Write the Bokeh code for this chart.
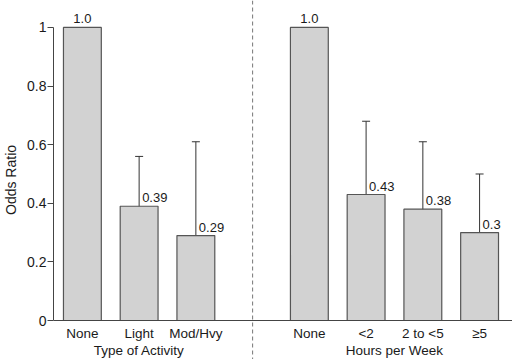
from bokeh.plotting import figure
from bokeh.models import ColumnDataSource, Range1d, FixedTicker, Span, Whisker, TeeHead
from bokeh.core.properties import value
from bokeh.embed import file_html
from bokeh.resources import INLINE

# ---- data ----
categories = ["None", "Light", "Mod/Hvy", "None", "<2", "2 to <5", "\u22655"]
positions = [0, 1, 2, 4, 5, 6, 7]
odds = [1.0, 0.39, 0.29, 1.0, 0.43, 0.38, 0.30]
value_labels = ["1.0", "0.39", "0.29", "1.0", "0.43", "0.38", "0.3"]
ci_positions = [1, 2, 5, 6, 7]
ci_lower = [0.27, 0.14, 0.27, 0.24, 0.19]
ci_upper = [0.56, 0.61, 0.68, 0.61, 0.50]
group_titles = ["Type of Activity", "Hours per Week"]
group_centers = [1, 5.5]
divider = 3
y_ticks = [0, 0.2, 0.4, 0.6, 0.8, 1.0]
y_tick_labels = ["0", "0.2", "0.4", "0.6", "0.8", "1"]

FONT = value("Liberation Sans")
TXT = "#1a1a1a"
AX = "#444444"

bars = ColumnDataSource(dict(x=positions, top=odds, lab=value_labels, cat=categories))
ci = ColumnDataSource(dict(x=ci_positions, lower=ci_lower, upper=ci_upper))
groups = ColumnDataSource(dict(x=group_centers, t=group_titles))

p = figure(width=512, height=359, output_backend="svg", toolbar_location=None,
           x_range=Range1d(-0.509, 7.58), y_range=Range1d(-0.133, 1.092),
           min_border_left=0, min_border_right=0, min_border_top=0, min_border_bottom=0)
p.outline_line_color = None
p.xgrid.visible = False
p.ygrid.visible = False
p.xaxis.visible = False

# y axis
ya = p.yaxis[0]
ya.bounds = (0, 1)
ya.ticker = FixedTicker(ticks=y_ticks)
ya.major_label_overrides = {t: l for t, l in zip(y_ticks, y_tick_labels)}
ya.minor_tick_line_color = None
ya.major_tick_in = 0
ya.major_tick_out = 6
ya.major_label_standoff = 1
ya.axis_line_color = AX
ya.major_tick_line_color = AX
ya.major_label_text_font = "Liberation Sans"
ya.major_label_text_font_size = "14px"
ya.major_label_text_color = TXT
ya.axis_label = "Odds Ratio"
ya.axis_label_text_font = "Liberation Sans"
ya.axis_label_text_font_size = "14px"
ya.axis_label_text_font_style = "normal"
ya.axis_label_text_color = TXT
ya.axis_label_standoff = 5

# bars
p.vbar(x="x", top="top", width=0.667, bottom=0, source=bars,
       fill_color="#d2d2d2", line_color="#555555", line_width=1.2)

# x axis line at zero
p.add_layout(Span(location=0, dimension="width", line_color=AX, line_width=1.2))

# divider
p.add_layout(Span(location=divider, dimension="height", line_color="#777777",
                  line_width=1, line_dash="4 3"))

# error bars
w = Whisker(source=ci, base="x", upper="upper", lower="lower", dimension="height",
            line_color="#333333", line_width=1,
            upper_head=TeeHead(size=8, line_color="#333333", line_width=1),
            lower_head=TeeHead(size=8, line_color="#333333", line_width=1))
p.add_layout(w)

# value labels
ref_idx = [i for i in range(len(odds)) if odds[i] == 1.0]
oth_idx = [i for i in range(len(odds)) if odds[i] != 1.0]
ref = ColumnDataSource(dict(x=[positions[i] for i in ref_idx], y=[odds[i] for i in ref_idx],
                            t=[value_labels[i] for i in ref_idx]))
oth = ColumnDataSource(dict(x=[positions[i] for i in oth_idx], y=[odds[i] for i in oth_idx],
                            t=[value_labels[i] for i in oth_idx]))
p.text(x="x", y="y", text="t", source=ref, text_align="center", text_baseline="bottom",
       y_offset=-4, text_font=FONT, text_font_size="13px", text_color=TXT)
p.text(x="x", y="y", text="t", source=oth, text_align="left", text_baseline="bottom",
       x_offset=3, y_offset=-4, text_font=FONT, text_font_size="13px", text_color=TXT)

# category labels
p.text(x="x", y=0, text="cat", source=bars, text_align="center", text_baseline="top",
       y_offset=5, text_font=FONT, text_font_size="13.5px", text_color=TXT)
# group titles
p.text(x="x", y=0, text="t", source=groups, text_align="center", text_baseline="top",
       y_offset=22, text_font=FONT, text_font_size="13.5px", text_color=TXT)

open("out.html", "w").write(file_html(p, INLINE))
